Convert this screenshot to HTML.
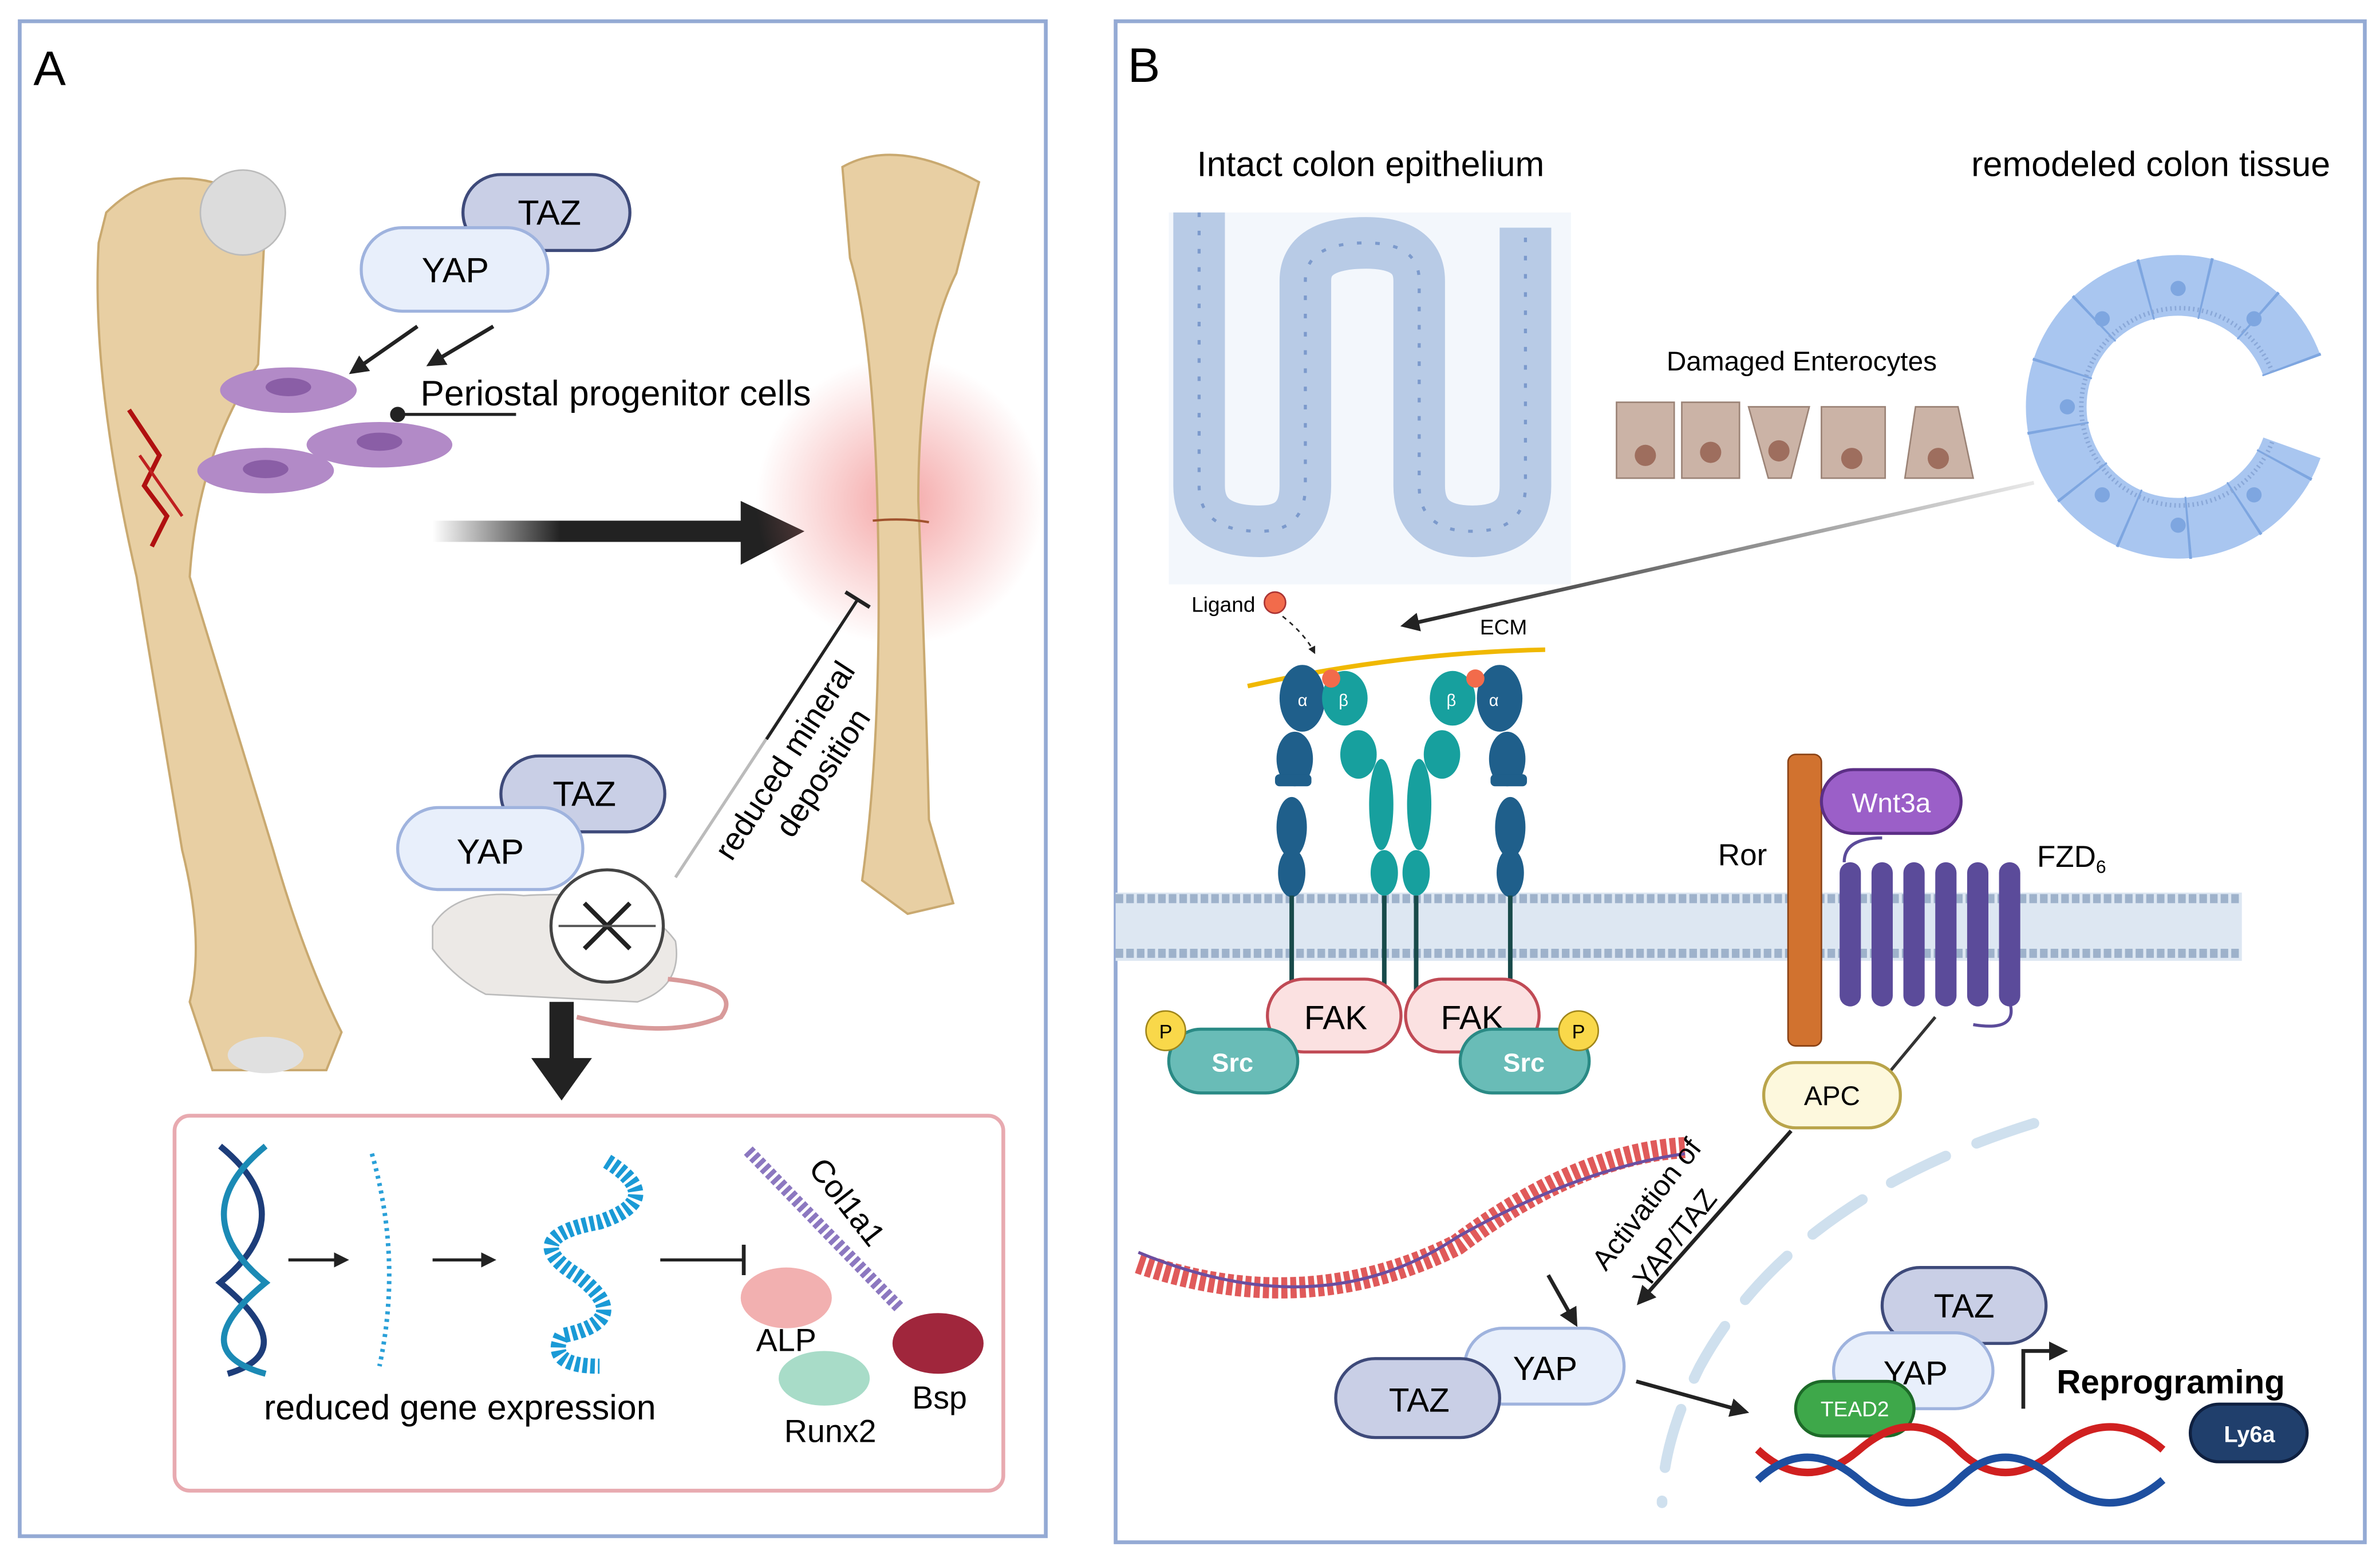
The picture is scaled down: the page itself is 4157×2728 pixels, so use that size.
<!DOCTYPE html>
<html><head><meta charset="utf-8"><style>
html,body{margin:0;padding:0;background:#fff}
svg{display:block}
text{font-family:"Liberation Sans",sans-serif}
</style></head><body>
<svg width="4157" height="2728" viewBox="0 0 1568 1029" preserveAspectRatio="none" xmlns="http://www.w3.org/2000/svg">
<defs>
<marker id="ah" viewBox="0 0 10 10" refX="8" refY="5" markerWidth="5" markerHeight="5" orient="auto"><path d="M0,0L10,5L0,10z" fill="#222"/></marker>
<linearGradient id="gA" x1="0" x2="1"><stop offset="0" stop-color="#222" stop-opacity="0"/><stop offset="0.4" stop-color="#222"/></linearGradient>
<radialGradient id="glow"><stop offset="0" stop-color="#f08080" stop-opacity="0.7"/><stop offset="1" stop-color="#f08080" stop-opacity="0"/></radialGradient>
<linearGradient id="gL" x1="0" x2="1"><stop offset="0" stop-color="#222"/><stop offset="1" stop-color="#222" stop-opacity="0.1"/></linearGradient>
</defs>
<rect width="1568" height="1029" fill="#fff"/>
<rect x="13" y="14" width="676" height="998" fill="none" stroke="#94aad4" stroke-width="2.5"/>
<rect x="735" y="14" width="823" height="1002" fill="none" stroke="#94aad4" stroke-width="2.5"/>
<text x="22" y="56" font-size="32">A</text>
<text x="743" y="54" font-size="32">B</text>

<path d="M70,140 Q100,110 140,120 L175,140 L170,240 Q130,300 125,380 L180,560 Q200,630 225,680 L215,705 L140,705 L125,660 Q135,620 120,560 L90,380 Q60,250 65,160z" fill="#e8cfa3" stroke="#c9a970" stroke-width="1.5"/>
<circle cx="160" cy="140" r="28" fill="#dcdcdc" stroke="#bbb"/>
<ellipse cx="175" cy="695" rx="25" ry="12" fill="#e0e0e0"/>
<path d="M85,270 L105,300 L95,320 L110,340 L100,360" stroke="#b01010" stroke-width="3" fill="none"/>
<path d="M92,300 L120,340" stroke="#c02020" stroke-width="2"/>
<rect x="305" y="115" width="110" height="50" rx="25" fill="#c9cfe6" stroke="#3e4a7a" stroke-width="2"/>
<text x="362" y="148" font-size="23" text-anchor="middle">TAZ</text>
<rect x="238" y="150" width="123" height="55" rx="27" fill="#e8effb" stroke="#9fb3de" stroke-width="2"/>
<text x="300" y="186" font-size="23" text-anchor="middle">YAP</text>
<line x1="275" y1="215" x2="232" y2="245" stroke="#222" stroke-width="2.5" marker-end="url(#ah)"/>
<line x1="325" y1="215" x2="283" y2="240" stroke="#222" stroke-width="2.5" marker-end="url(#ah)"/>
<ellipse cx="190" cy="257" rx="45" ry="15" fill="#b28ac7"/><ellipse cx="190" cy="255" rx="15" ry="6" fill="#8a5ea6"/>
<ellipse cx="250" cy="293" rx="48" ry="15" fill="#b28ac7"/><ellipse cx="250" cy="291" rx="15" ry="6" fill="#8a5ea6"/>
<ellipse cx="175" cy="310" rx="45" ry="15" fill="#b28ac7"/><ellipse cx="175" cy="309" rx="15" ry="6" fill="#8a5ea6"/>
<circle cx="262" cy="273" r="5" fill="#222"/><line x1="262" y1="273" x2="340" y2="273" stroke="#222" stroke-width="2"/>
<text x="277" y="267" font-size="23.5">Periostal progenitor cells</text>
<rect x="285" y="343" width="210" height="14" fill="url(#gA)"/>
<path d="M488,330 L530,350 L488,372z" fill="#222"/>
<circle cx="593" cy="330" r="95" fill="url(#glow)"/>
<path d="M555,110 Q590,90 645,120 L630,180 Q605,230 605,330 Q610,450 612,540 L628,595 L598,602 L568,580 Q582,480 578,330 Q575,220 560,170z" fill="#e8cfa3" stroke="#c9a970" stroke-width="1.5"/>
<path d="M575,343 Q595,341 612,344" stroke="#a0522d" stroke-width="1.5" fill="none"/>
<line x1="445" y1="578" x2="565" y2="395" stroke="#bbb" stroke-width="2"/>
<line x1="505" y1="487" x2="565" y2="395" stroke="#222" stroke-width="2"/>
<line x1="557" y1="390" x2="573" y2="400" stroke="#222" stroke-width="2.5"/>
<text transform="translate(482,568) rotate(-57)" font-size="21">reduced mineral</text>
<text transform="translate(522,553) rotate(-57)" font-size="21">deposition</text>
<rect x="330" y="498" width="108" height="50" rx="25" fill="#c9cfe6" stroke="#3e4a7a" stroke-width="2"/>
<text x="385" y="531" font-size="23" text-anchor="middle">TAZ</text>
<rect x="262" y="532" width="122" height="54" rx="27" fill="#e8effb" stroke="#9fb3de" stroke-width="2"/>
<text x="323" y="569" font-size="23" text-anchor="middle">YAP</text>
<path d="M285,610 Q300,585 345,590 Q420,585 445,620 Q450,650 420,660 L320,655 Q300,645 285,625z" fill="#ece9e6" stroke="#bbb"/>
<path d="M440,645 Q490,650 475,670 Q440,685 380,670" stroke="#d89a9a" stroke-width="3" fill="none"/>
<circle cx="400" cy="610" r="37" fill="#fff" stroke="#444" stroke-width="2"/>
<line x1="385" y1="595" x2="415" y2="625" stroke="#222" stroke-width="3"/><line x1="415" y1="595" x2="385" y2="625" stroke="#222" stroke-width="3"/>
<line x1="368" y1="610" x2="432" y2="610" stroke="#555" stroke-width="1.5"/>
<rect x="362" y="660" width="16" height="40" fill="#222"/>
<path d="M350,697 L390,697 L370,725z" fill="#222"/>
<rect x="115" y="735" width="546" height="247" rx="10" fill="#fff" stroke="#e8aab0" stroke-width="2.5"/>
<path d="M145,755 Q200,800 145,845 Q200,890 150,905" stroke="#1d3d7a" stroke-width="4" fill="none"/>
<path d="M175,755 Q120,800 175,845 Q120,890 175,905" stroke="#1b8ab5" stroke-width="4" fill="none"/>
<line x1="190" y1="830" x2="228" y2="830" stroke="#222" stroke-width="2" marker-end="url(#ah)"/>
<path d="M245,760 Q265,830 250,900" stroke="#2aa0d8" stroke-width="3" fill="none" stroke-dasharray="2 3"/>
<line x1="285" y1="830" x2="325" y2="830" stroke="#222" stroke-width="2" marker-end="url(#ah)"/>
<path d="M400,765 Q440,790 395,805 Q340,815 380,840 Q420,870 370,880 Q360,900 395,900" stroke="#1a9ad6" stroke-width="10" fill="none" stroke-dasharray="3 2"/>
<line x1="435" y1="830" x2="490" y2="830" stroke="#222" stroke-width="2"/><line x1="490" y1="820" x2="490" y2="840" stroke="#222" stroke-width="2.5"/>
<line x1="493" y1="758" x2="593" y2="862" stroke="#8c78c0" stroke-width="8" stroke-dasharray="3 2"/>
<text transform="translate(532,770) rotate(52)" font-size="21">Col1a1</text>
<ellipse cx="518" cy="855" rx="30" ry="20" fill="#f2b0b0"/>
<text x="518" y="890" font-size="21" text-anchor="middle">ALP</text>
<ellipse cx="543" cy="908" rx="30" ry="18" fill="#a8dcc8"/>
<text x="547" y="950" font-size="21" text-anchor="middle">Runx2</text>
<ellipse cx="618" cy="885" rx="30" ry="20" fill="#a0263c"/>
<text x="619" y="928" font-size="21" text-anchor="middle">Bsp</text>
<text x="303" y="935" font-size="23" text-anchor="middle">reduced gene expression</text>

<text x="903" y="116" font-size="23" text-anchor="middle">Intact colon epithelium</text>
<text x="1417" y="116" font-size="23" text-anchor="middle">remodeled colon tissue</text>
<rect x="770" y="140" width="265" height="245" fill="#f3f7fc"/>
<path d="M790,140 L790,320 Q790,350 830,350 Q860,350 860,320 L860,185 Q860,160 900,160 Q935,160 935,185 L935,320 Q935,350 970,350 Q1005,350 1005,320 L1005,150" stroke="#b8cbe6" stroke-width="34" fill="none"/>
<path d="M790,140 L790,320 Q790,350 830,350 Q860,350 860,320 L860,185 Q860,160 900,160 Q935,160 935,185 L935,320 Q935,350 970,350 Q1005,350 1005,320 L1005,150" stroke="#7c9acc" stroke-width="2" fill="none" stroke-dasharray="3 9"/>
<text x="1187" y="244" font-size="18" text-anchor="middle">Damaged Enterocytes</text>
<g fill="#cbb3a6" stroke="#9b8376">
<rect x="1065" y="265" width="38" height="50"/><rect x="1108" y="265" width="38" height="50"/><path d="M1152,268 L1192,268 L1180,315 L1165,315z"/><rect x="1200" y="268" width="42" height="47"/><path d="M1262,268 L1290,268 L1300,315 L1255,315z"/></g>
<g fill="#9e6e5e"><circle cx="1084" cy="300" r="7"/><circle cx="1127" cy="298" r="7"/><circle cx="1172" cy="297" r="7"/><circle cx="1220" cy="302" r="7"/><circle cx="1277" cy="302" r="7"/></g>
<path d="M1510,241 A80,80 0 1 0 1510,295" stroke="#a9c6f0" stroke-width="40" fill="none"/>
<path d="M1510,241 A80,80 0 1 0 1510,295" stroke="#7ea6e0" stroke-width="41" fill="none" stroke-dasharray="1.5 38"/>
<path d="M1497,245 A65,65 0 1 0 1497,291" stroke="#8aa8d8" stroke-width="3" fill="none" stroke-dasharray="1 2"/>
<g fill="#7ea6e0"><circle cx="1362" cy="268" r="5"/><circle cx="1385" cy="210" r="5"/><circle cx="1435" cy="190" r="5"/><circle cx="1485" cy="210" r="5"/><circle cx="1385" cy="326" r="5"/><circle cx="1435" cy="346" r="5"/><circle cx="1485" cy="326" r="5"/></g>
<line x1="1340" y1="318" x2="925" y2="412" stroke="url(#gL)" stroke-width="2.5" marker-end="url(#ah)"/>
<text x="785" y="403" font-size="14">Ligand</text><circle cx="840" cy="397" r="7" fill="#f26b4b" stroke="#a33"/>
<path d="M845,406 Q860,418 866,430" stroke="#222" stroke-dasharray="3 3" fill="none" marker-end="url(#ah)"/>
<text x="975" y="418" font-size="14">ECM</text>
<path d="M822,452 Q920,430 1018,428" stroke="#f0b800" stroke-width="3" fill="none"/>
<rect x="735" y="588" width="742" height="45" fill="#dde7f2"/>
<line x1="735" y1="592" x2="1477" y2="592" stroke="#9eb2cb" stroke-width="6" stroke-dasharray="5 2"/>
<line x1="735" y1="628" x2="1477" y2="628" stroke="#9eb2cb" stroke-width="6" stroke-dasharray="5 2"/>
<g fill="#1f5f8b">
<ellipse cx="858" cy="460" rx="15" ry="22"/><ellipse cx="853" cy="500" rx="12" ry="18"/><rect x="840" y="510" width="24" height="8" rx="3"/><ellipse cx="851" cy="545" rx="10" ry="20"/><ellipse cx="851" cy="575" rx="9" ry="16"/>
<ellipse cx="988" cy="460" rx="15" ry="22"/><ellipse cx="993" cy="500" rx="12" ry="18"/><rect x="982" y="510" width="24" height="8" rx="3"/><ellipse cx="995" cy="545" rx="10" ry="20"/><ellipse cx="995" cy="575" rx="9" ry="16"/>
</g>
<g fill="#17a09e">
<ellipse cx="886" cy="460" rx="15" ry="18"/><ellipse cx="895" cy="497" rx="12" ry="16"/><ellipse cx="910" cy="530" rx="8" ry="30" /><ellipse cx="912" cy="575" rx="9" ry="15"/>
<ellipse cx="957" cy="460" rx="15" ry="18"/><ellipse cx="950" cy="497" rx="12" ry="16"/><ellipse cx="935" cy="530" rx="8" ry="30" /><ellipse cx="933" cy="575" rx="9" ry="15"/>
</g>
<circle cx="877" cy="447" r="6" fill="#f26b4b"/><circle cx="972" cy="447" r="6" fill="#f26b4b"/>
<g fill="#fff" font-size="11"><text x="855" y="465">α</text><text x="882" y="465">β</text><text x="953" y="465">β</text><text x="981" y="465">α</text></g>
<g stroke="#184a4a" stroke-width="3"><line x1="851" y1="590" x2="851" y2="660"/><line x1="912" y1="590" x2="912" y2="655"/><line x1="933" y1="590" x2="933" y2="655"/><line x1="995" y1="590" x2="995" y2="660"/></g>
<rect x="835" y="645" width="88" height="48" rx="24" fill="#fbe1e1" stroke="#c04a55" stroke-width="2"/><text x="880" y="678" font-size="22" text-anchor="middle">FAK</text>
<rect x="926" y="645" width="88" height="48" rx="24" fill="#fbe1e1" stroke="#c04a55" stroke-width="2"/><text x="970" y="678" font-size="22" text-anchor="middle">FAK</text>
<rect x="770" y="678" width="85" height="42" rx="21" fill="#69bcb7" stroke="#2a8a85" stroke-width="2"/><text x="812" y="706" font-size="17" fill="#fff" text-anchor="middle" font-weight="bold">Src</text>
<rect x="962" y="678" width="85" height="42" rx="21" fill="#69bcb7" stroke="#2a8a85" stroke-width="2"/><text x="1004" y="706" font-size="17" fill="#fff" text-anchor="middle" font-weight="bold">Src</text>
<circle cx="768" cy="679" r="13" fill="#f9d84a" stroke="#a0861a"/><text x="768" y="684" font-size="13" text-anchor="middle">P</text>
<circle cx="1040" cy="679" r="13" fill="#f9d84a" stroke="#a0861a"/><text x="1040" y="684" font-size="13" text-anchor="middle">P</text>
<rect x="1178" y="497" width="22" height="192" rx="5" fill="#d1722f" stroke="#8a4215"/>
<text x="1148" y="570" font-size="20" text-anchor="middle">Ror</text>
<rect x="1200" y="507" width="92" height="42" rx="21" fill="#9b5fc8" stroke="#5c2f86" stroke-width="2"/><text x="1246" y="535" font-size="18" fill="#fff" text-anchor="middle">Wnt3a</text>
<path d="M1215,568 Q1215,552 1240,552" stroke="#5b4b9a" stroke-width="2" fill="none"/>
<path d="M1324,660 Q1330,680 1300,675" stroke="#5b4b9a" stroke-width="2" fill="none"/>
<g fill="#5b4b9a"><rect x="1212" y="568" width="14" height="95" rx="7"/><rect x="1233" y="568" width="14" height="95" rx="7"/><rect x="1254" y="568" width="14" height="95" rx="7"/><rect x="1275" y="568" width="14" height="95" rx="7"/><rect x="1296" y="568" width="14" height="95" rx="7"/><rect x="1317" y="568" width="14" height="95" rx="7"/></g>
<text x="1342" y="571" font-size="20">FZD<tspan font-size="12" dy="4">6</tspan></text>
<line x1="1275" y1="670" x2="1240" y2="712" stroke="#333" stroke-width="2"/><line x1="1232" y1="706" x2="1246" y2="718" stroke="#333" stroke-width="2.5"/>
<rect x="1162" y="700" width="90" height="43" rx="21" fill="#fdf8dd" stroke="#b9a44a" stroke-width="2"/><text x="1207" y="728" font-size="18" text-anchor="middle">APC</text>
<path d="M1340,740 Q1180,790 1120,900 Q1095,950 1095,990" stroke="#cfe0ee" stroke-width="7" fill="none" stroke-dasharray="40 22" stroke-linecap="round"/>
<path d="M750,832 Q860,870 960,820 Q1040,760 1110,756" stroke="#e05a5a" stroke-width="14" fill="none" stroke-dasharray="4 2"/>
<path d="M750,825 Q870,875 960,815 Q1040,770 1110,760" stroke="#6b4ea0" stroke-width="2" fill="none"/>
<line x1="1180" y1="745" x2="1080" y2="858" stroke="#222" stroke-width="2.5" marker-end="url(#ah)"/>
<line x1="1020" y1="840" x2="1038" y2="872" stroke="#222" stroke-width="2.5" marker-end="url(#ah)"/>
<text transform="translate(1058,838) rotate(-52)" font-size="19">Activation of</text>
<text transform="translate(1085,850) rotate(-52)" font-size="19">YAP/TAZ</text>
<rect x="965" y="875" width="105" height="50" rx="25" fill="#e8effb" stroke="#9fb3de" stroke-width="2"/><text x="1018" y="909" font-size="22" text-anchor="middle">YAP</text>
<rect x="880" y="895" width="108" height="52" rx="26" fill="#c9cfe6" stroke="#3e4a7a" stroke-width="2"/><text x="935" y="930" font-size="22" text-anchor="middle">TAZ</text>
<line x1="1078" y1="910" x2="1150" y2="930" stroke="#222" stroke-width="2.5" marker-end="url(#ah)"/>
<rect x="1240" y="835" width="108" height="50" rx="25" fill="#c9cfe6" stroke="#3e4a7a" stroke-width="2"/><text x="1294" y="868" font-size="22" text-anchor="middle">TAZ</text>
<rect x="1208" y="878" width="105" height="50" rx="25" fill="#e8effb" stroke="#9fb3de" stroke-width="2"/><text x="1262" y="912" font-size="22" text-anchor="middle">YAP</text>
<rect x="1183" y="910" width="78" height="36" rx="18" fill="#3ea84a" stroke="#1d6a28" stroke-width="2"/><text x="1222" y="933" font-size="14" fill="#fff" text-anchor="middle">TEAD2</text>
<path d="M1158,955 Q1190,985 1225,955 T1290,955 T1355,955 T1425,955" stroke="#d02020" stroke-width="5" fill="none"/>
<path d="M1158,975 Q1190,945 1225,975 T1290,975 T1355,975 T1425,975" stroke="#1e4fa0" stroke-width="5" fill="none"/>
<path d="M1333,928 L1333,890 L1360,890" stroke="#222" stroke-width="2.5" fill="none" marker-end="url(#ah)"/>
<text x="1355" y="918" font-size="22" font-weight="bold">Reprograming</text>
<rect x="1443" y="925" width="77" height="38" rx="19" fill="#203f6c" stroke="#0f2040" stroke-width="2"/><text x="1482" y="950" font-size="15" fill="#fff" font-weight="bold" text-anchor="middle">Ly6a</text>
</svg>
</body></html>
